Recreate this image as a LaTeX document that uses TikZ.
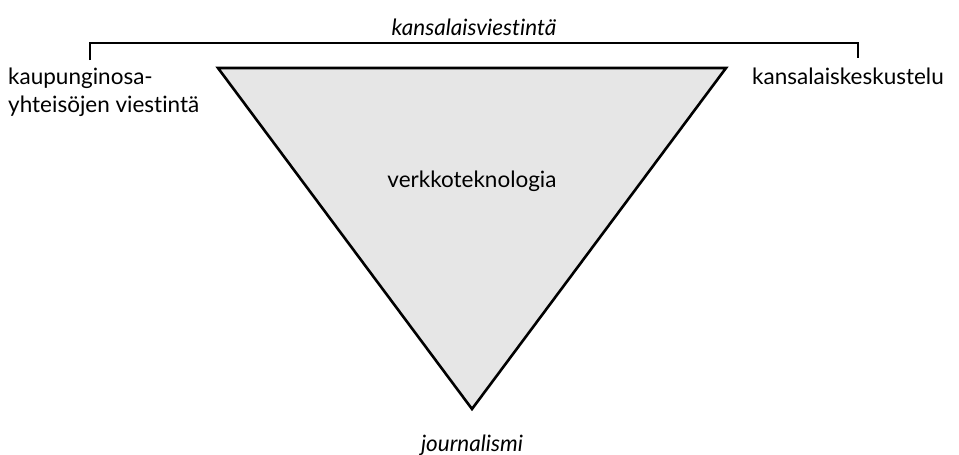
\documentclass[tikz,border=0pt]{standalone}
\usepackage{fontspec}
\setmainfont{Lato}[Ligatures={NoCommon,NoRare}]
\definecolor{trifill}{HTML}{E6E6E6}
\tikzset{
  lbl/.style={inner sep=0pt, font=\fontsize{22.5}{28}\selectfont},
  ilbl/.style={lbl, font=\fontsize{22.5}{28}\selectfont\itshape},
  tri/.style={draw=black, fill=trifill, line width=2.6pt, line join=miter},
  brk/.style={draw=black, line width=1.1pt}
}
\begin{document}
\begin{tikzpicture}[x=1pt,y=-1pt]
\useasboundingbox (0,0) rectangle (959,455);
% triangle
\coordinate (tl) at (218,68);
\coordinate (tr) at (726,68);
\coordinate (bt) at (472,409);
\draw[tri] (tl) -- (tr) -- (bt) -- cycle;
% bracket
\coordinate (bl) at (90,60);
\coordinate (br) at (858,58);
\draw[brk] (bl) |- (474,43) -| (br);
% labels
\node[ilbl, anchor=base] (top) at (474,35) {kansalaisviestintä};
\node[lbl, anchor=base west] (l1) at (8,84) {kaupunginosa-};
\node[lbl, anchor=base west] (l2) at (8,112) {yhteisöjen viestintä};
\node[lbl, anchor=base west] (r1) at (752,84) {kansalaiskeskustelu};
\node[lbl, anchor=base] (mid) at (472,187) {verkkoteknologia};
\node[ilbl, anchor=base] (bot) at (472,451) {journalismi};
\end{tikzpicture}
\end{document}
